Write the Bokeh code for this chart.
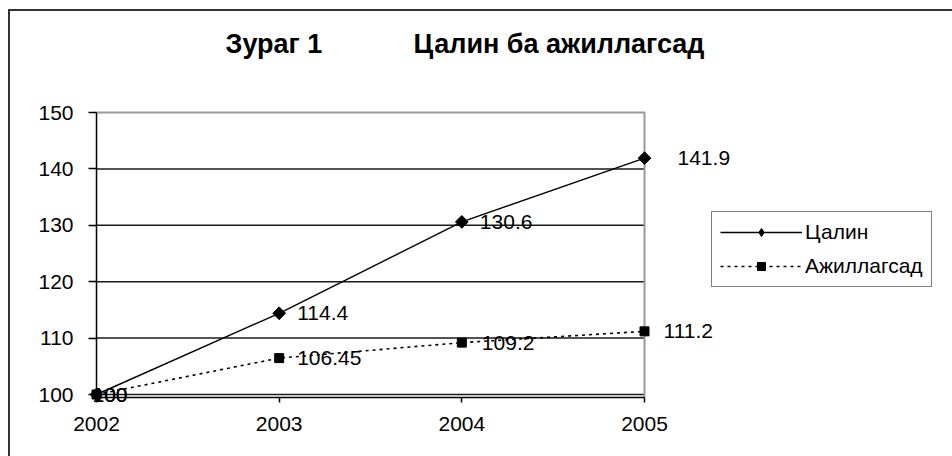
import math
from bokeh.plotting import figure
from bokeh.models import ColumnDataSource, Legend, LegendItem, Label, FixedTicker, Range1d
from bokeh.core.properties import value
from bokeh.embed import file_html
from bokeh.resources import INLINE

# ---- data ----
years = [2002, 2003, 2004, 2005]
salary = [100, 114.4, 130.6, 141.9]
employed = [100, 106.45, 109.2, 111.2]
y_ticks = [100, 110, 120, 130, 140, 150]
series_names = ["Цалин", "Ажиллагсад"]
title_parts = ["Зураг 1", "Цалин ба ажиллагсад"]

# ---- style / layout ----
FONT = "Liberation Sans"
salary_label_offsets = [-4, 18, 18, 33]
employed_label_offsets = [-4, 18, 20, 19]
AXIS_BASE = 99.5                      # where the category axis sits
PX_YEAR, PX_UNIT = 182.67, 5.64       # scale of the plot area
FRAME_W, FRAME_H = 942, 445
LEFT_PAD_PX, TOP_PAD_PX = 86, 101     # frame edge -> first year / top value
x0 = years[0] - LEFT_PAD_PX / PX_YEAR
y1 = y_ticks[-1] + TOP_PAD_PX / PX_UNIT

p = figure(
    frame_width=FRAME_W, frame_height=FRAME_H,
    min_border_left=0, min_border_right=0, min_border_top=0, min_border_bottom=0,
    x_range=Range1d(x0, x0 + FRAME_W / PX_YEAR),
    y_range=Range1d(y1 - FRAME_H / PX_UNIT, y1),
    output_backend="svg", toolbar_location=None,
)
p.styles = {"margin": "9px 0 0 8px",
            "border-left": "2px solid #333333", "border-top": "2px solid #333333"}
p.background_fill_color = "white"
p.border_fill_color = "white"
p.outline_line_color = None

# axes
p.xaxis.ticker = FixedTicker(ticks=years)
p.yaxis.ticker = FixedTicker(ticks=y_ticks)
p.xaxis.fixed_location = AXIS_BASE
p.xaxis.bounds = (years[0], years[-1])
p.yaxis.fixed_location = years[0]
p.yaxis.bounds = (AXIS_BASE, y_ticks[-1])
for ax in (p.xaxis[0], p.yaxis[0]):
    ax.axis_line_color = "black"
    ax.axis_line_width = 1.5
    ax.major_tick_line_color = "black"
    ax.major_tick_line_width = 1.5
    ax.major_tick_in = 0
    ax.minor_tick_line_color = None
    ax.major_label_text_font = FONT
    ax.major_label_text_font_size = "21px"
    ax.major_label_text_color = "black"
p.xaxis.major_tick_out = 5
p.xaxis.major_label_standoff = 15
p.yaxis.major_tick_out = 8
p.yaxis.major_label_standoff = 15

p.grid.visible = False
grid_vals = y_ticks[:-1]
p.segment(x0=[years[0]] * len(grid_vals), x1=[years[-1]] * len(grid_vals),
          y0=grid_vals, y1=grid_vals, line_color="#1a1a1a", line_width=1.5)
# plot-area border (top and right, grey)
p.line(x=[years[0], years[-1], years[-1]], y=[y_ticks[-1], y_ticks[-1], AXIS_BASE],
       line_color="#999999", line_width=2)

# series
r1 = p.line(years, salary, line_color="black", line_width=1.4)
m1 = p.scatter(years, salary, marker="square", angle=math.pi / 4, size=9,
               fill_color="black", line_color="black")
r2 = p.line(years, employed, line_color="black", line_width=1.6, line_dash="3 4")
m2 = p.scatter(years, employed, marker="square", size=9,
               fill_color="black", line_color="black")
# legend swatch for the diamond marker (a single point that is never on screen)
nan = float("nan")
m1_key = p.scatter(x=[nan], y=[nan], marker="diamond", size=12,
                   fill_color="black", line_color="black")

# data labels
src1 = ColumnDataSource(dict(x=years, y=salary, t=[f"{v:g}" for v in salary],
                             xo=salary_label_offsets))
src2 = ColumnDataSource(dict(x=years, y=employed, t=[f"{v:g}" for v in employed],
                             xo=employed_label_offsets))
for src in (src1, src2):
    p.text(x="x", y="y", text="t", x_offset="xo", source=src,
           text_baseline="middle", text_align="left",
           text_font=value(FONT), text_font_size=value("21px"), text_color="black")

# legend
legend = Legend(
    items=[LegendItem(label=series_names[0], renderers=[r1, m1_key]),
           LegendItem(label=series_names[1], renderers=[r2, m2])],
    location=(701, 169),
    border_line_color="black", border_line_width=1.5,
    background_fill_color="white", background_fill_alpha=1,
    label_text_font=FONT, label_text_font_size="21px", label_text_color="black",
    glyph_width=82, glyph_height=20, label_height=20, label_standoff=3,
    spacing=10, padding=8, margin=0,
)
p.add_layout(legend)

# title
for txt, sx in ((title_parts[0], 215), (title_parts[1], 403)):
    p.add_layout(Label(x=sx, y=413, x_units="screen", y_units="screen", text=txt,
                       text_font=FONT, text_font_style="bold", text_font_size="27px",
                       text_color="black", text_baseline="alphabetic"))

open("out.html", "w").write(file_html(p, INLINE))
